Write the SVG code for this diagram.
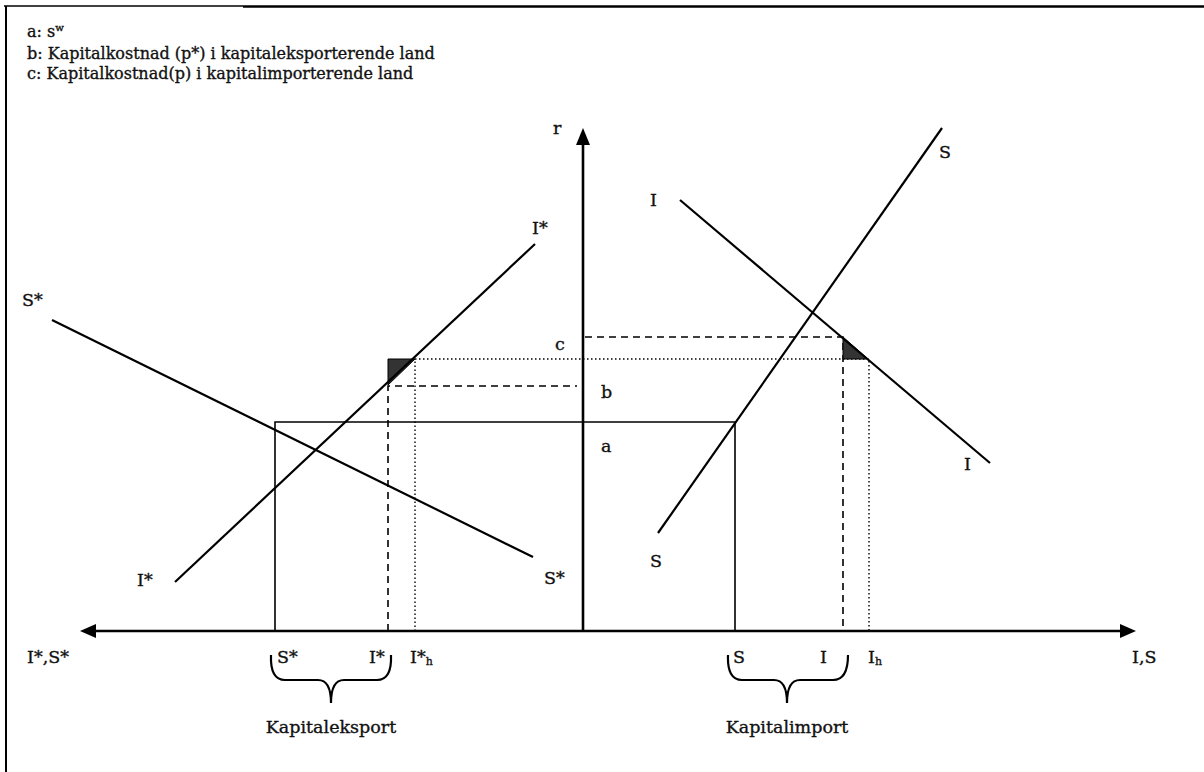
<svg xmlns="http://www.w3.org/2000/svg" width="1204" height="772" viewBox="0 0 1204 772">
<defs>
<style>
text{font-family:"DejaVu Serif","Liberation Serif",serif;font-size:17.5px;fill:#111;stroke:#111;stroke-width:0.35}
.leg{font-size:16px}
.sub{font-size:11px}
.ax{stroke:#000;stroke-width:2.6;fill:none}
.cv{stroke:#000;stroke-width:2.2;fill:none}
.th{stroke:#000;stroke-width:1.6;fill:none}
.da{stroke:#000;stroke-width:1.6;fill:none;stroke-dasharray:7,5}
.do{stroke:#000;stroke-width:1.4;fill:none;stroke-dasharray:1.5,2.5}
.tri{fill:#333;stroke:#000;stroke-width:1}
</style>
</defs>
<rect width="1204" height="772" fill="#fff"/>
<g id="frame">
<line x1="4" y1="6" x2="243" y2="6" stroke="#000" stroke-width="1.5"/>
<line x1="243" y1="6.5" x2="1204" y2="6.5" stroke="#000" stroke-width="2.5"/>
<line x1="6" y1="6" x2="6" y2="772" stroke="#000" stroke-width="2"/>
</g>
<g id="legend">
<text class="leg" x="27" y="37">a: s<tspan font-size="10" dy="-6">w</tspan></text>
<text class="leg" x="27" y="59">b: Kapitalkostnad (p*) i kapitaleksporterende land</text>
<text class="leg" x="27" y="79">c: Kapitalkostnad(p) i kapitalimporterende land</text>
</g>
<g id="connectors">
<line class="ax" x1="583" y1="631" x2="96" y2="631"/>
<line class="ax" x1="583" y1="631" x2="1120" y2="631"/>
<line class="ax" x1="583" y1="631" x2="583" y2="144"/>
<path d="M96,624 L80,631 L96,638 Z" fill="#000"/>
<path d="M1120,624 L1136,631 L1120,638 Z" fill="#000"/>
<path d="M576,145 L583,128 L590,145 Z" fill="#000"/>
<path class="th" d="M275,631 V422 H735 V631"/>
<path class="da" d="M388,631 V386 H577"/>
<path class="da" d="M585,337 H843 V631"/>
<path class="do" d="M415,631 V359 H869 V631"/>
<path class="tri" d="M388,359 L415,359 L388,385 Z"/>
<path class="tri" d="M843,337 L868,359 L843,359 Z"/>
</g>
<g id="curve-Istar"><line class="cv" x1="175" y1="582" x2="535" y2="244"/></g>
<g id="curve-Sstar"><line class="cv" x1="52" y1="320" x2="533" y2="557"/></g>
<g id="curve-I"><line class="cv" x1="680" y1="200" x2="990" y2="463"/></g>
<g id="curve-S"><line class="cv" x1="658" y1="533" x2="942" y2="128"/></g>
<g id="braces">
<path class="cv" d="M271,655 Q270,680 285,680 L318,680 Q331,680 331,703 Q331,680 344,680 L377,680 Q392,680 391,655"/>
<path class="cv" d="M728,655 Q727,680 742,680 L774,680 Q787,680 787,703 Q787,680 800,680 L833,680 Q848,680 848,655"/>
</g>
<g id="labels">
<text x="553" y="134">r</text>
<text x="532" y="234">I*</text>
<text x="22" y="306">S*</text>
<text x="137" y="586">I*</text>
<text x="544" y="584">S*</text>
<text x="650" y="206">I</text>
<text x="964" y="470">I</text>
<text x="939" y="158">S</text>
<text x="650" y="567">S</text>
<text x="555" y="350">c</text>
<text x="601" y="398">b</text>
<text x="601" y="452">a</text>
<text x="27" y="663">I*,S*</text>
<text x="277" y="663">S*</text>
<text x="369" y="663">I*</text>
<text x="410" y="663">I*<tspan class="sub" dy="2">h</tspan></text>
<text x="733" y="663">S</text>
<text x="820" y="663">I</text>
<text x="868" y="663">I<tspan class="sub" dy="2">h</tspan></text>
<text x="1132" y="663">I,S</text>
<text x="331" y="733" text-anchor="middle">Kapitaleksport</text>
<text x="787" y="733" text-anchor="middle">Kapitalimport</text>
</g>
</svg>
